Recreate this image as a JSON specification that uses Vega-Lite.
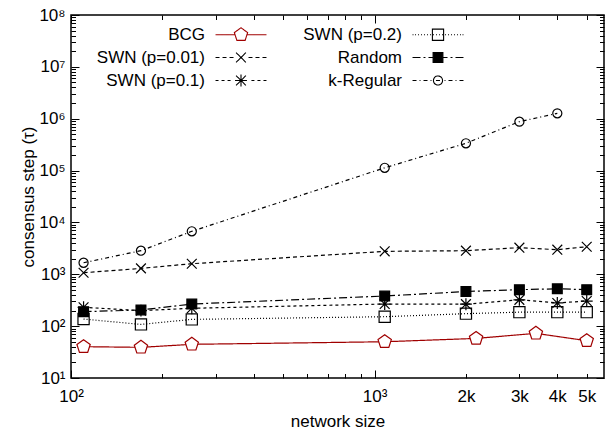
{
  "$schema": "https://vega.github.io/schema/vega-lite/v6.json",
  "width": 533,
  "height": 363,
  "autosize": {"type": "none"},
  "padding": {"left": 71, "top": 15, "right": 2, "bottom": 57},
  "background": "white",
  "config": {
    "view": {"stroke": "black", "strokeWidth": 1.5},
    "font": "Liberation Sans",
    "axis": {
      "domain": false, "grid": false,
      "labelFont": "Liberation Sans", "labelFontSize": 17, "labelColor": "black",
      "tickColor": "black", "tickWidth": 1,
      "titleFont": "Liberation Sans", "titleFontSize": 17, "titleFontWeight": "normal", "titleColor": "black",
      "labelFlush": false, "labelOverlap": false
    }
  },
  "data": {
    "values": [
      {"series": "BCG", "n": 110, "tau": 40.2},
      {"series": "BCG", "n": 170, "tau": 39},
      {"series": "BCG", "n": 250, "tau": 44.6},
      {"series": "BCG", "n": 1080, "tau": 50},
      {"series": "BCG", "n": 2160, "tau": 58},
      {"series": "BCG", "n": 3400, "tau": 72.6},
      {"series": "BCG", "n": 5000, "tau": 52.4},
      {"series": "SWN (p=0.01)", "n": 110, "tau": 1070},
      {"series": "SWN (p=0.01)", "n": 170, "tau": 1300},
      {"series": "SWN (p=0.01)", "n": 250, "tau": 1600},
      {"series": "SWN (p=0.01)", "n": 1080, "tau": 2770},
      {"series": "SWN (p=0.01)", "n": 2000, "tau": 2850},
      {"series": "SWN (p=0.01)", "n": 3000, "tau": 3260},
      {"series": "SWN (p=0.01)", "n": 4000, "tau": 2980},
      {"series": "SWN (p=0.01)", "n": 5000, "tau": 3400},
      {"series": "SWN (p=0.1)", "n": 110, "tau": 231},
      {"series": "SWN (p=0.1)", "n": 170, "tau": 199},
      {"series": "SWN (p=0.1)", "n": 250, "tau": 221},
      {"series": "SWN (p=0.1)", "n": 1080, "tau": 267},
      {"series": "SWN (p=0.1)", "n": 2000, "tau": 265},
      {"series": "SWN (p=0.1)", "n": 3000, "tau": 322},
      {"series": "SWN (p=0.1)", "n": 4000, "tau": 280},
      {"series": "SWN (p=0.1)", "n": 5000, "tau": 305},
      {"series": "SWN (p=0.2)", "n": 110, "tau": 137},
      {"series": "SWN (p=0.2)", "n": 170, "tau": 108},
      {"series": "SWN (p=0.2)", "n": 250, "tau": 135},
      {"series": "SWN (p=0.2)", "n": 1080, "tau": 152},
      {"series": "SWN (p=0.2)", "n": 2000, "tau": 174},
      {"series": "SWN (p=0.2)", "n": 3000, "tau": 186},
      {"series": "SWN (p=0.2)", "n": 4000, "tau": 186},
      {"series": "SWN (p=0.2)", "n": 5000, "tau": 186},
      {"series": "Random", "n": 110, "tau": 190},
      {"series": "Random", "n": 170, "tau": 205},
      {"series": "Random", "n": 250, "tau": 267},
      {"series": "Random", "n": 1080, "tau": 381},
      {"series": "Random", "n": 2000, "tau": 465},
      {"series": "Random", "n": 3000, "tau": 505},
      {"series": "Random", "n": 4000, "tau": 525},
      {"series": "Random", "n": 5000, "tau": 505},
      {"series": "k-Regular", "n": 110, "tau": 1670},
      {"series": "k-Regular", "n": 170, "tau": 2850},
      {"series": "k-Regular", "n": 250, "tau": 6740},
      {"series": "k-Regular", "n": 1080, "tau": 113000},
      {"series": "k-Regular", "n": 2000, "tau": 336000},
      {"series": "k-Regular", "n": 3000, "tau": 877000},
      {"series": "k-Regular", "n": 4000, "tau": 1270000}
    ]
  },
  "layer": [
    {
      "mark": {"type": "line", "strokeWidth": 1.2},
      "encoding": {
        "x": {"field": "n", "type": "quantitative",
          "scale": {"type": "log", "domain": [100, 5700], "nice": false},
          "axis": {"orient": "bottom", "values": [100, 1000], "tickSize": -8, "labelPadding": 18,
            "labelExpr": "datum.value < 500 ? '10²' : '10³'",
            "title": "network size", "titlePadding": 9}},
        "y": {"field": "tau", "type": "quantitative",
          "scale": {"type": "log", "domain": [10, 100000000], "nice": false},
          "axis": {"orient": "left", "values": [10, 100, 1000, 10000, 100000, 1000000, 10000000, 100000000],
            "tickSize": -8, "labelPadding": 14,
            "labelExpr": "'10' + ['⁰','¹','²','³','⁴','⁵','⁶','⁷','⁸'][round(log(datum.value)/LN10)]",
            "title": "consensus step (τ)", "titlePadding": 1}},
        "stroke": {"field": "series", "type": "nominal",
          "scale": {"domain": ["BCG", "SWN (p=0.01)", "SWN (p=0.1)", "SWN (p=0.2)", "Random", "k-Regular"],
            "range": ["#a00000", "black", "black", "black", "black", "black"]},
          "legend": {
            "orient": "none", "legendX": 24, "legendY": 11, "columns": 2, "title": null,
            "padding": 0, "offset": 0, "rowPadding": 5, "columnPadding": 23,
            "labelFont": "Liberation Sans", "labelFontSize": 17, "labelColor": "black", "labelLimit": 300,
            "symbolSize": 196,
            "encode": {
              "symbols": {"update": {
                "shape": {"signal": "datum.value === 'BCG' ? 'M-3.64,0H-0.85M0.85,0H3.64M0,-1L0.951,-0.309L0.588,0.809L-0.588,0.809L-0.951,-0.309Z' : datum.value === 'SWN (p=0.2)' ? 'M-3.64,0H-3.5M-3.28,0H-3.14M-2.86,0H-2.72M-2.43,0H-2.29M-2,0H-1.86M-1.57,0H-1.43M-1.14,0H-1M-0.71,0H-0.57M-0.28,0H-0.14M0.14,0H0.28M0.57,0H0.71M1,0H1.14M1.43,0H1.57M1.86,0H2M2.29,0H2.43M2.72,0H2.86M3.14,0H3.28M3.5,0H3.64M-0.8,-0.8H0.8V0.8H-0.8Z' : datum.value === 'SWN (p=0.01)' ? 'M-3.64,0H-3.07M-2.64,0H-2.07M-1.64,0H-1.07M1.07,0H1.64M2.07,0H2.64M3.07,0H3.64M-0.7,-0.7L0.7,0.7M-0.7,0.7L0.7,-0.7' : datum.value === 'Random' ? 'M-3.64,0H-2.5M-2.07,0H-1.79M-1.36,0H-0.7M0.7,0H1.36M1.79,0H2.07M2.5,0H3.64M-0.7,-0.7H0.7V0.7H-0.7Z' : datum.value === 'SWN (p=0.1)' ? 'M-3.64,0H-3.21M-2.78,0H-2.35M-1.92,0H-1.49M1.49,0H1.92M2.35,0H2.78M3.21,0H3.64M-0.7,-0.7L0.7,0.7M-0.7,0.7L0.7,-0.7M0,-0.85V0.85M-0.85,0H0.85' : 'M-3.64,0H-3.07M-2.64,0H-2.5M-2.07,0H-1.5M-1.07,0H-0.93M-0.29,0H0.29M0.93,0H1.07M1.5,0H2.07M2.5,0H2.64M3.07,0H3.64M0.65,0A0.65,0.65,0,1,1,-0.65,0A0.65,0.65,0,1,1,0.65,0Z'"},
                "size": {"value": 196},
                "fill": {"signal": "datum.value === 'Random' ? 'black' : datum.value === 'BCG' ? 'white' : 'transparent'"},
                "stroke": {"signal": "datum.value === 'BCG' ? '#a00000' : 'black'"},
                "strokeWidth": {"value": 1.1},
                "strokeDash": {"value": [1, 0]},
                "opacity": {"value": 1},
                "x": {"value": 146}
              }},
              "labels": {"update": {
                "x": {"value": 110},
                "align": {"value": "right"}
              }}
            }
          }},
        "strokeDash": {"field": "series", "type": "nominal",
          "scale": {"domain": ["BCG", "SWN (p=0.2)", "SWN (p=0.01)", "Random", "SWN (p=0.1)", "k-Regular"],
            "range": [[1, 0], [1, 2], [4, 3], [8, 3, 2, 3], [3, 3], [4, 3, 1, 3]]},
          "legend": null}
      }
    },
    {
      "mark": {"type": "point", "size": 196, "strokeWidth": 1.2, "opacity": 1},
      "encoding": {
        "x": {"field": "n", "type": "quantitative",
          "scale": {"type": "log", "domain": [100, 5700], "nice": false},
          "axis": {"orient": "bottom", "values": [200, 300, 400, 500, 600, 700, 800, 900, 2000, 3000, 4000, 5000],
            "tickSize": -4.5, "labelPadding": 14.5,
            "labelExpr": "datum.value >= 2000 ? (datum.value / 1000) + 'k' : ''",
            "title": null}},
        "y": {"field": "tau", "type": "quantitative",
          "scale": {"type": "log", "domain": [10, 100000000], "nice": false},
          "axis": {"orient": "left", "values": [20,30,40,50,60,70,80,90,200,300,400,500,600,700,800,900,2000,3000,4000,5000,6000,7000,8000,9000,20000,30000,40000,50000,60000,70000,80000,90000,200000,300000,400000,500000,600000,700000,800000,900000,2000000,3000000,4000000,5000000,6000000,7000000,8000000,9000000,20000000,30000000,40000000,50000000,60000000,70000000,80000000,90000000],
            "tickSize": -4.5, "labels": false, "title": null}},
        "stroke": {"field": "series", "type": "nominal",
          "scale": {"domain": ["BCG", "SWN (p=0.01)", "SWN (p=0.1)", "SWN (p=0.2)", "Random", "k-Regular"],
            "range": ["#a00000", "black", "black", "black", "black", "black"]},
          "legend": null},
        "fill": {"field": "series", "type": "nominal",
          "scale": {"domain": ["BCG", "SWN (p=0.2)", "SWN (p=0.01)", "Random", "SWN (p=0.1)", "k-Regular"],
            "range": ["white", "transparent", "transparent", "black", "transparent", "transparent"]},
          "legend": null},
        "shape": {"field": "series", "type": "nominal",
          "scale": {"domain": ["BCG", "SWN (p=0.2)", "SWN (p=0.01)", "Random", "SWN (p=0.1)", "k-Regular"],
            "range": [
              "M0,-1L0.951,-0.309L0.588,0.809L-0.588,0.809L-0.951,-0.309Z",
              "M-0.8,-0.8H0.8V0.8H-0.8Z",
              "M-0.7,-0.7L0.7,0.7M-0.7,0.7L0.7,-0.7",
              "M-0.7,-0.7H0.7V0.7H-0.7Z",
              "M-0.7,-0.7L0.7,0.7M-0.7,0.7L0.7,-0.7M0,-0.85V0.85M-0.85,0H0.85",
              "M0.65,0A0.65,0.65,0,1,1,-0.65,0A0.65,0.65,0,1,1,0.65,0Z"
            ]},
          "legend": null}
      }
    },
    {
      "mark": {"type": "point", "opacity": 0},
      "encoding": {
        "x": {"field": "n", "type": "quantitative",
          "scale": {"type": "log", "domain": [100, 5700], "nice": false},
          "axis": {"orient": "top", "values": [100, 1000], "tickSize": -8, "labels": false, "title": null}},
        "y": {"field": "tau", "type": "quantitative",
          "scale": {"type": "log", "domain": [10, 100000000], "nice": false},
          "axis": {"orient": "right", "values": [10, 100, 1000, 10000, 100000, 1000000, 10000000, 100000000],
            "tickSize": -8, "labels": false, "title": null}}
      }
    },
    {
      "mark": {"type": "point", "opacity": 0},
      "encoding": {
        "x": {"field": "n", "type": "quantitative",
          "scale": {"type": "log", "domain": [100, 5700], "nice": false},
          "axis": {"orient": "top", "values": [200, 300, 400, 500, 600, 700, 800, 900, 2000, 3000, 4000, 5000],
            "tickSize": -4.5, "labels": false, "title": null}},
        "y": {"field": "tau", "type": "quantitative",
          "scale": {"type": "log", "domain": [10, 100000000], "nice": false},
          "axis": {"orient": "right", "values": [20,30,40,50,60,70,80,90,200,300,400,500,600,700,800,900,2000,3000,4000,5000,6000,7000,8000,9000,20000,30000,40000,50000,60000,70000,80000,90000,200000,300000,400000,500000,600000,700000,800000,900000,2000000,3000000,4000000,5000000,6000000,7000000,8000000,9000000,20000000,30000000,40000000,50000000,60000000,70000000,80000000,90000000],
            "tickSize": -4.5, "labels": false, "title": null}}
      }
    }
  ],
  "resolve": {
    "scale": {"x": "independent", "y": "independent"},
    "axis": {"x": "independent", "y": "independent"}
  }
}
